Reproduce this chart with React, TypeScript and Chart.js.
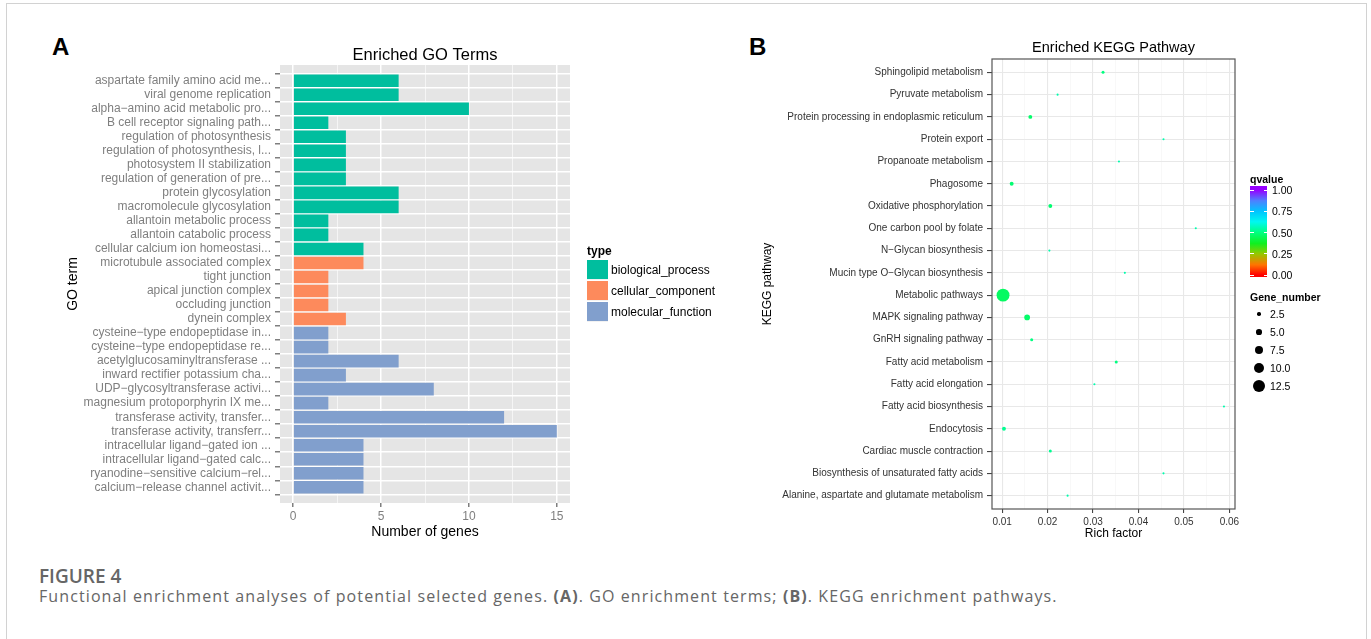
import React, { useEffect, useRef } from "react";
import { Chart, registerables } from "chart.js";

Chart.register(...registerables);

const FONT = '"Liberation Sans", Arial, Helvetica, sans-serif';
const CAPTION_FONT = '"Open Sans", "Noto Sans", sans-serif';

// ---- GO enrichment (panel A) ----
const goTerms = [
  "aspartate family amino acid me...",
  "viral genome replication",
  "alpha\u2212amino acid metabolic pro...",
  "B cell receptor signaling path...",
  "regulation of photosynthesis",
  "regulation of photosynthesis, l...",
  "photosystem II stabilization",
  "regulation of generation of pre...",
  "protein glycosylation",
  "macromolecule glycosylation",
  "allantoin metabolic process",
  "allantoin catabolic process",
  "cellular calcium ion homeostasi...",
  "microtubule associated complex",
  "tight junction",
  "apical junction complex",
  "occluding junction",
  "dynein complex",
  "cysteine\u2212type endopeptidase in...",
  "cysteine\u2212type endopeptidase re...",
  "acetylglucosaminyltransferase ...",
  "inward rectifier potassium cha...",
  "UDP\u2212glycosyltransferase activi...",
  "magnesium protoporphyrin IX me...",
  "transferase activity, transfer...",
  "transferase activity, transferr...",
  "intracellular ligand\u2212gated ion ...",
  "intracellular ligand\u2212gated calc...",
  "ryanodine\u2212sensitive calcium\u2212rel...",
  "calcium\u2212release channel activit...",
];
const goCounts = [6, 6, 10, 2, 3, 3, 3, 3, 6, 6, 2, 2, 4, 4, 2, 2, 2, 3, 2, 2, 6, 3, 8, 2, 12, 15, 4, 4, 4, 4];
const goTypes = [
  "biological_process", "biological_process", "biological_process", "biological_process",
  "biological_process", "biological_process", "biological_process", "biological_process",
  "biological_process", "biological_process", "biological_process", "biological_process",
  "biological_process",
  "cellular_component", "cellular_component", "cellular_component", "cellular_component",
  "cellular_component",
  "molecular_function", "molecular_function", "molecular_function", "molecular_function",
  "molecular_function", "molecular_function", "molecular_function", "molecular_function",
  "molecular_function", "molecular_function", "molecular_function", "molecular_function",
];
const typeNames = ["biological_process", "cellular_component", "molecular_function"];
const typeColors = ["#00BE9E", "#FD8A5C", "#819FCD"];
const goMajorTicks = [0, 5, 10, 15];
const goMinorTicks = [2.5, 7.5, 12.5];

// ---- KEGG enrichment (panel B) ----
const keggPathways = [
  "Sphingolipid metabolism",
  "Pyruvate metabolism",
  "Protein processing in endoplasmic reticulum",
  "Protein export",
  "Propanoate metabolism",
  "Phagosome",
  "Oxidative phosphorylation",
  "One carbon pool by folate",
  "N\u2212Glycan biosynthesis",
  "Mucin type O\u2212Glycan biosynthesis",
  "Metabolic pathways",
  "MAPK signaling pathway",
  "GnRH signaling pathway",
  "Fatty acid metabolism",
  "Fatty acid elongation",
  "Fatty acid biosynthesis",
  "Endocytosis",
  "Cardiac muscle contraction",
  "Biosynthesis of unsaturated fatty acids",
  "Alanine, aspartate and glutamate metabolism",
];
const keggRichFactor = [
  0.0322, 0.0222, 0.0162, 0.0455, 0.0357, 0.0121, 0.0206, 0.0526, 0.0204, 0.037,
  0.0102, 0.0155, 0.0165, 0.0351, 0.0303, 0.0588, 0.0104, 0.0206, 0.0455, 0.0244,
];
const keggGeneNumber = [2, 1, 3, 1, 1, 3, 3, 1, 1, 1, 13, 5, 2, 2, 1, 1, 3, 2, 1, 1];
const keggQvalue = [
  0.5, 0.55, 0.47, 0.55, 0.55, 0.48, 0.48, 0.55, 0.55, 0.55,
  0.46, 0.47, 0.5, 0.5, 0.55, 0.55, 0.52, 0.52, 0.55, 0.55,
];
const richMajorTicks = [0.01, 0.02, 0.03, 0.04, 0.05, 0.06];
const richMinorTicks = [0.015, 0.025, 0.035, 0.045, 0.055];
const qvalueBreaks = [1, 0.75, 0.5, 0.25, 0];
const geneNumberBreaks = [2.5, 5, 7.5, 10, 12.5];

// rainbow-like colour scale used for q-values
const Q_STOPS: [number, string][] = [
  [0, "#FF0000"],
  [0.12, "#FF7400"],
  [0.25, "#95C800"],
  [0.37, "#10F020"],
  [0.5, "#00FF80"],
  [0.625, "#00F8F0"],
  [0.75, "#00C4FF"],
  [0.875, "#4E80FF"],
  [1, "#9600FF"],
];

function hexToRgb(h: string): number[] {
  return [1, 3, 5].map((i) => parseInt(h.slice(i, i + 2), 16));
}

function qColor(q: number): string {
  for (let i = 1; i < Q_STOPS.length; i++) {
    const [v1, c1] = Q_STOPS[i];
    const [v0, c0] = Q_STOPS[i - 1];
    if (q <= v1) {
      const t = (q - v0) / (v1 - v0);
      const a = hexToRgb(c0);
      const b = hexToRgb(c1);
      const m = a.map((x, k) => Math.round(x + (b[k] - x) * t));
      return `rgb(${m[0]},${m[1]},${m[2]})`;
    }
  }
  return Q_STOPS[Q_STOPS.length - 1][1];
}

function geneRadius(n: number): number {
  return 0.6 + 0.45 * n;
}

function panelTitle(text: string, size: number, baseline: number) {
  return {
    id: "panelTitle",
    afterDraw(chart: any) {
      const { ctx, chartArea } = chart;
      ctx.save();
      ctx.font = `${size}px ${FONT}`;
      ctx.fillStyle = "#000";
      ctx.textAlign = "center";
      ctx.textBaseline = "alphabetic";
      ctx.fillText(text, (chartArea.left + chartArea.right) / 2, baseline);
      ctx.restore();
    },
  };
}

const panelBackground = {
  id: "panelBackground",
  beforeDraw(chart: any) {
    const { ctx, chartArea } = chart;
    ctx.save();
    ctx.fillStyle = "#E5E5E5";
    ctx.fillRect(chartArea.left, chartArea.top, chartArea.right - chartArea.left, chartArea.bottom - chartArea.top);
    ctx.restore();
  },
};

const panelBorder = {
  id: "panelBorder",
  afterDatasetsDraw(chart: any) {
    const { ctx, chartArea } = chart;
    ctx.save();
    ctx.strokeStyle = "#555555";
    ctx.lineWidth = 1.2;
    ctx.strokeRect(chartArea.left, chartArea.top, chartArea.right - chartArea.left, chartArea.bottom - chartArea.top);
    ctx.restore();
  },
};

function GoChart() {
  const ref = useRef<HTMLCanvasElement>(null);
  useEffect(() => {
    if (!ref.current) return;
    const isMajor = (v: number) => goMajorTicks.includes(v);
    const chart = new Chart(ref.current, {
      type: "bar",
      data: {
        datasets: [
          {
            data: goCounts.map((c, i) => ({ x: c, y: i })),
            backgroundColor: goTypes.map((t) => typeColors[typeNames.indexOf(t)]),
            borderWidth: 0,
            barPercentage: 0.9,
            categoryPercentage: 1,
          },
        ],
      },
      options: {
        indexAxis: "y",
        responsive: false,
        animation: false,
        layout: { padding: { left: 65, top: 65, right: 170, bottom: 19.6 } },
        plugins: { legend: { display: false }, tooltip: { enabled: false } },
        scales: {
          x: {
            type: "linear",
            min: -0.75,
            max: 15.75,
            afterBuildTicks: (axis: any) => {
              axis.ticks = [...goMajorTicks, ...goMinorTicks].sort((a, b) => a - b).map((v) => ({ value: v }));
            },
            afterFit: (axis: any) => {
              axis.height = 37.4;
            },
            ticks: {
              autoSkip: false,
              maxRotation: 0,
              padding: 2,
              color: "#7F7F7F",
              font: { size: 12, family: FONT },
              callback: (v: any) => (isMajor(Number(v)) ? String(v) : ""),
            },
            grid: {
              color: "#FFFFFF",
              lineWidth: (ctx: any) => (ctx.tick && isMajor(ctx.tick.value) ? 1.5 : 0.6),
              tickColor: (ctx: any) => (ctx.tick && isMajor(ctx.tick.value) ? "#7F7F7F" : "rgba(0,0,0,0)"),
              tickLength: 4,
            },
            border: { display: false },
            title: {
              display: true,
              text: "Number of genes",
              color: "#000",
              font: { size: 14, family: FONT },
              padding: 0,
            },
          },
          y: {
            type: "linear",
            min: -0.6,
            max: goTerms.length - 0.4,
            reverse: true,
            afterBuildTicks: (axis: any) => {
              axis.ticks = goTerms.map((_, i) => ({ value: i }));
            },
            afterFit: (axis: any) => {
              axis.width = 215;
            },
            ticks: {
              autoSkip: false,
              padding: 4,
              color: "#7F7F7F",
              font: { size: 12, family: FONT },
              callback: (v: any) => goTerms[Number(v)] ?? "",
            },
            grid: {
              color: "#FFFFFF",
              lineWidth: 1.5,
              tickColor: "#7F7F7F",
              tickLength: 5,
            },
            border: { display: false },
            title: {
              display: true,
              text: "GO term",
              color: "#000",
              font: { size: 14, family: FONT },
              padding: 0,
            },
          },
        },
      },
      plugins: [panelBackground, panelTitle("Enriched GO Terms", 16.5, 60)],
    } as any);
    return () => chart.destroy();
  }, []);
  return <canvas ref={ref} width={740} height={560} style={{ position: "absolute", left: 0, top: 0 }} />;
}

function KeggChart() {
  const ref = useRef<HTMLCanvasElement>(null);
  useEffect(() => {
    if (!ref.current) return;
    const lo = Math.min(...keggRichFactor);
    const hi = Math.max(...keggRichFactor);
    const pad = (hi - lo) * 0.05;
    const isMajor = (v: number) => richMajorTicks.some((t) => Math.abs(t - v) < 1e-9);
    const chart = new Chart(ref.current, {
      type: "scatter",
      data: {
        datasets: [
          {
            data: keggRichFactor.map((r, i) => ({ x: r, y: i })),
            pointRadius: (ctx: any) => geneRadius(keggGeneNumber[ctx.dataIndex]),
            pointBackgroundColor: (ctx: any) => qColor(keggQvalue[ctx.dataIndex]),
            pointBorderWidth: 0,
            pointHoverRadius: (ctx: any) => geneRadius(keggGeneNumber[ctx.dataIndex]),
          },
        ],
      },
      options: {
        responsive: false,
        animation: false,
        layout: { padding: { left: 20, top: 59, right: 25, bottom: 19.5 } },
        plugins: { legend: { display: false }, tooltip: { enabled: false } },
        scales: {
          x: {
            type: "linear",
            min: lo - pad,
            max: hi + pad,
            afterBuildTicks: (axis: any) => {
              axis.ticks = [...richMajorTicks, ...richMinorTicks].sort((a, b) => a - b).map((v) => ({ value: v }));
            },
            afterFit: (axis: any) => {
              axis.height = 31.5;
            },
            ticks: {
              autoSkip: false,
              maxRotation: 0,
              padding: 3,
              color: "#333333",
              font: { size: 10, family: FONT },
              callback: (v: any) => (isMajor(Number(v)) ? Number(v).toFixed(2) : ""),
            },
            grid: {
              color: (ctx: any) => (ctx.tick && isMajor(ctx.tick.value) ? "#E8E8E8" : "#F3F3F3"),
              lineWidth: (ctx: any) => (ctx.tick && isMajor(ctx.tick.value) ? 1.1 : 0.6),
              tickColor: (ctx: any) => (ctx.tick && isMajor(ctx.tick.value) ? "#444444" : "rgba(0,0,0,0)"),
              tickLength: 4,
            },
            border: { display: false },
            title: {
              display: true,
              text: "Rich factor",
              color: "#000",
              font: { size: 12, family: FONT },
              padding: 0,
            },
          },
          y: {
            type: "linear",
            min: -0.6,
            max: keggPathways.length - 0.4,
            reverse: true,
            afterBuildTicks: (axis: any) => {
              axis.ticks = keggPathways.map((_, i) => ({ value: i }));
            },
            afterFit: (axis: any) => {
              axis.width = 232;
            },
            ticks: {
              autoSkip: false,
              padding: 4,
              color: "#333333",
              font: { size: 10, family: FONT },
              callback: (v: any) => keggPathways[Number(v)] ?? "",
            },
            grid: {
              color: "#E8E8E8",
              lineWidth: 1.1,
              tickColor: "#444444",
              tickLength: 5,
            },
            border: { display: false },
            title: {
              display: true,
              text: "KEGG pathway",
              color: "#000",
              font: { size: 12, family: FONT },
              padding: 0,
            },
          },
        },
      },
      plugins: [panelBorder, panelTitle("Enriched KEGG Pathway", 14.5, 52)],
    } as any);
    return () => chart.destroy();
  }, []);
  return <canvas ref={ref} width={520} height={560} style={{ position: "absolute", left: 740, top: 0 }} />;
}

function TypeLegend() {
  return (
    <div style={{ position: "absolute", left: 587, top: 244, fontFamily: FONT, color: "#000" }}>
      <div style={{ fontSize: 12, fontWeight: "bold", height: 16, lineHeight: "14px" }}>type</div>
      {typeNames.map((t, i) => (
        <div key={t} style={{ display: "flex", alignItems: "center", height: 20.7 }}>
          <div
            style={{
              width: 21,
              height: 20,
              background: typeColors[i],
              borderBottom: "0.7px solid #F2F2F2",
              boxSizing: "border-box",
            }}
          />
          <span style={{ fontSize: 12, marginLeft: 3, whiteSpace: "nowrap" }}>{t}</span>
        </div>
      ))}
    </div>
  );
}

function QvalueLegend() {
  const barTop = 186;
  const barH = 91;
  const valueY = (v: number) => 275 - 85 * v;
  const grad = Q_STOPS.map(([v, c]) => `${c} ${(((barTop + barH - valueY(v)) / barH) * 100).toFixed(1)}%`).join(", ");
  return (
    <div style={{ position: "absolute", left: 0, top: 0, fontFamily: FONT, color: "#000" }}>
      <div
        style={{ position: "absolute", left: 1250, top: 173, fontSize: 10.5, fontWeight: "bold", lineHeight: "12px" }}
      >
        qvalue
      </div>
      <div
        style={{
          position: "absolute",
          left: 1250,
          top: barTop,
          width: 17,
          height: barH,
          background: `linear-gradient(to top, ${grad})`,
        }}
      />
      {qvalueBreaks.map((v) => (
        <React.Fragment key={v}>
          <div style={{ position: "absolute", left: 1250, top: valueY(v) - 0.5, width: 3.5, height: 1, background: "#FFFFFF" }} />
          <div style={{ position: "absolute", left: 1263.5, top: valueY(v) - 0.5, width: 3.5, height: 1, background: "#FFFFFF" }} />
          <div
            style={{ position: "absolute", left: 1272, top: valueY(v) - 6, fontSize: 10.5, lineHeight: "12px", whiteSpace: "nowrap" }}
          >
            {v.toFixed(2)}
          </div>
        </React.Fragment>
      ))}
    </div>
  );
}

function GeneNumberLegend() {
  const rowY = (i: number) => 314 + 18 * i;
  return (
    <div style={{ position: "absolute", left: 0, top: 0, fontFamily: FONT, color: "#000" }}>
      <div
        style={{ position: "absolute", left: 1250, top: 291, fontSize: 10.5, fontWeight: "bold", lineHeight: "12px" }}
      >
        Gene_number
      </div>
      {geneNumberBreaks.map((v, i) => {
        const r = geneRadius(v);
        return (
          <React.Fragment key={v}>
            <div
              style={{
                position: "absolute",
                left: 1259 - r,
                top: rowY(i) - r,
                width: 2 * r,
                height: 2 * r,
                borderRadius: "50%",
                background: "#000",
              }}
            />
            <div
              style={{ position: "absolute", left: 1270, top: rowY(i) - 6, fontSize: 10.5, lineHeight: "12px", whiteSpace: "nowrap" }}
            >
              {v.toFixed(1)}
            </div>
          </React.Fragment>
        );
      })}
    </div>
  );
}

export default function App() {
  return (
    <div
      style={{
        position: "absolute",
        left: 0,
        top: 0,
        width: 1371,
        height: 639,
        overflow: "hidden",
        background: "#FFFFFF",
      }}
    >
      <div
        style={{
          position: "absolute",
          left: 6,
          top: 3,
          width: 1361,
          height: 700,
          border: "1.5px solid #D2D2D2",
          boxSizing: "border-box",
        }}
      />
      <div
        style={{ position: "absolute", left: 52, top: 34, fontFamily: FONT, fontWeight: "bold", fontSize: 24, lineHeight: "26px" }}
      >
        A
      </div>
      <div
        style={{ position: "absolute", left: 749, top: 34, fontFamily: FONT, fontWeight: "bold", fontSize: 24, lineHeight: "26px" }}
      >
        B
      </div>
      <GoChart />
      <KeggChart />
      <TypeLegend />
      <QvalueLegend />
      <GeneNumberLegend />
      <div
        style={{
          position: "absolute",
          left: 39,
          top: 567,
          fontFamily: CAPTION_FONT,
          fontWeight: 600,
          fontSize: 19,
          lineHeight: "19px",
          color: "#666666",
          whiteSpace: "nowrap",
        }}
      >
        FIGURE 4
      </div>
      <div
        style={{
          position: "absolute",
          left: 39,
          top: 588,
          fontFamily: CAPTION_FONT,
          fontSize: 16,
          lineHeight: "16px",
          letterSpacing: "1.1px",
          color: "#666666",
          whiteSpace: "nowrap",
        }}
      >
        Functional enrichment analyses of potential selected genes. <b>(A)</b>. GO enrichment terms; <b>(B)</b>. KEGG
        enrichment pathways.
      </div>
    </div>
  );
}
